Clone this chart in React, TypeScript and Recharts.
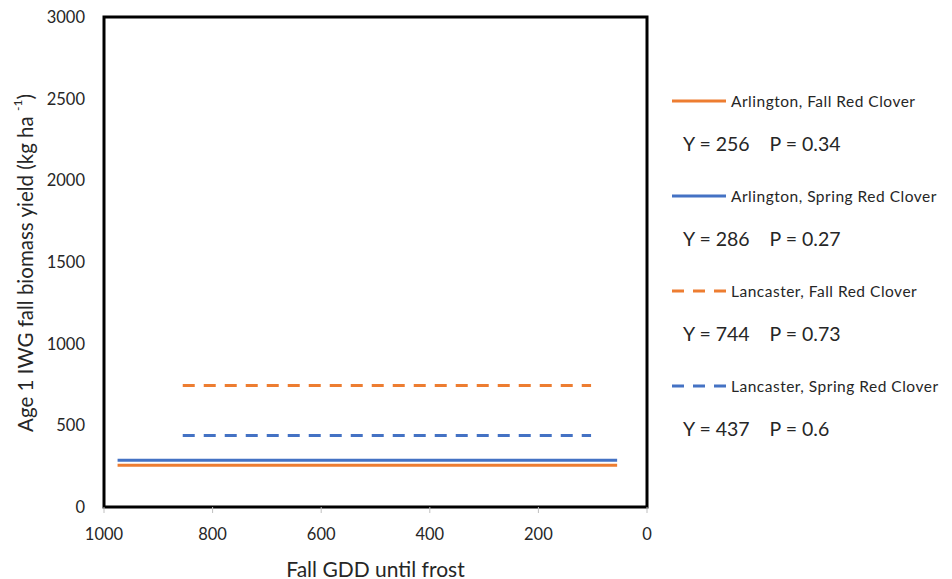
import { Legend, Line, LineChart, ReferenceArea, XAxis, YAxis, Label } from 'recharts';

// fitted mean yield per site / planting, drawn flat across the GDD range observed
const seriesNames = [
  'Arlington, Fall Red Clover',
  'Arlington, Spring Red Clover',
  'Lancaster, Fall Red Clover',
  'Lancaster, Spring Red Clover',
];
const yieldMeans = [256, 286, 744, 437];
const pValues = ['0.34', '0.27', '0.73', '0.6'];
const gddStart = [975, 975, 855, 855];
const gddEnd = [55, 55, 103, 103];

const xTicks = [0, 200, 400, 600, 800, 1000];
const yTicks = [0, 500, 1000, 1500, 2000, 2500, 3000];

const ORANGE = '#ED7D31';
const BLUE = '#4472C4';
const seriesColors = [ORANGE, BLUE, ORANGE, BLUE];
const seriesDash = [undefined, undefined, '12 9', '12 9'];

const FONT = 'Lato, "Open Sans", sans-serif';

const series = seriesNames.map((name, i) => ({
  name,
  y: yieldMeans[i],
  p: pValues[i],
  points: [
    { gdd: gddStart[i], y: yieldMeans[i] },
    { gdd: gddEnd[i], y: yieldMeans[i] },
  ],
}));

const StatsLegend = () => (
  <div style={{ fontFamily: FONT, color: '#262626', textAlign: 'left' }}>
    {series.map((s, i) => (
      <div key={s.name} style={{ height: 95 }}>
        <div style={{ display: 'flex', alignItems: 'center', height: 26 }}>
          <svg width={56} height={6}>
            <line
              x1={0}
              x2={54}
              y1={3}
              y2={3}
              stroke={seriesColors[i]}
              strokeWidth={3}
              strokeDasharray={seriesDash[i]}
            />
          </svg>
          <span style={{ fontSize: 15.5, marginLeft: 3, letterSpacing: 0.5 }}>
            {s.name}
          </span>
        </div>
        <div
          style={{
            fontSize: 19.5,
            marginLeft: 11,
            marginTop: 18,
            whiteSpace: 'pre',
          }}
        >
          {`Y = ${s.y}    P = ${s.p}`}
        </div>
      </div>
    ))}
  </div>
);

const App = () => {
  return (
    <div style={{ position: 'absolute', left: 0, top: 0 }}>
      <LineChart
        width={952}
        height={579}
        margin={{ top: 17, right: 305, bottom: 32, left: 40 }}
        style={{ fontFamily: FONT }}
      >
        <XAxis
          dataKey="gdd"
          type="number"
          domain={[0, 1000]}
          ticks={xTicks}
          reversed
          axisLine={false}
          tickLine={{ stroke: '#bfbfbf' }}
          tickSize={6}
          tickMargin={15}
          tick={{ fill: '#262626', fontSize: 16.5 }}
          height={40}
        >
          <Label
            content={() => (
              <text
                x={375.5}
                y={568}
                textAnchor="middle"
                dominantBaseline="central"
                fill="#262626"
                fontSize={21}
                fontFamily={FONT}
              >
                Fall GDD until frost
              </text>
            )}
          />
        </XAxis>
        <YAxis
          type="number"
          domain={[0, 3000]}
          ticks={yTicks}
          axisLine={false}
          tickLine={false}
          tickSize={6}
          tickMargin={13}
          tick={{ fill: '#262626', fontSize: 16.5 }}
          width={64}
        >
          <Label
            content={() => (
              <text
                x={25}
                y={263}
                transform="rotate(-90 25 263)"
                textAnchor="middle"
                dominantBaseline="central"
                fill="#262626"
                fontSize={20.5}
                fontFamily={FONT}
              >
                Age 1 IWG fall biomass yield (kg ha{' '}
                <tspan fontSize={12} dy={-8}>
                  -1
                </tspan>
                <tspan dy={8}>)</tspan>
              </text>
            )}
          />
        </YAxis>
        <ReferenceArea
          x1={1000}
          x2={0}
          y1={0}
          y2={3000}
          fill="none"
          stroke="#000"
          strokeWidth={3}
          ifOverflow="visible"
        />
        {series.map((s, i) => (
          <Line
            key={s.name}
            data={s.points}
            dataKey="y"
            name={s.name}
            stroke={seriesColors[i]}
            strokeWidth={3}
            strokeDasharray={seriesDash[i]}
            dot={false}
            activeDot={false}
            isAnimationActive={false}
          />
        ))}
        <Legend
          layout="vertical"
          align="center"
          verticalAlign="middle"
          content={StatsLegend}
          wrapperStyle={{ left: 672, top: 88, width: 280 }}
        />
      </LineChart>
    </div>
  );
};

export default App;
